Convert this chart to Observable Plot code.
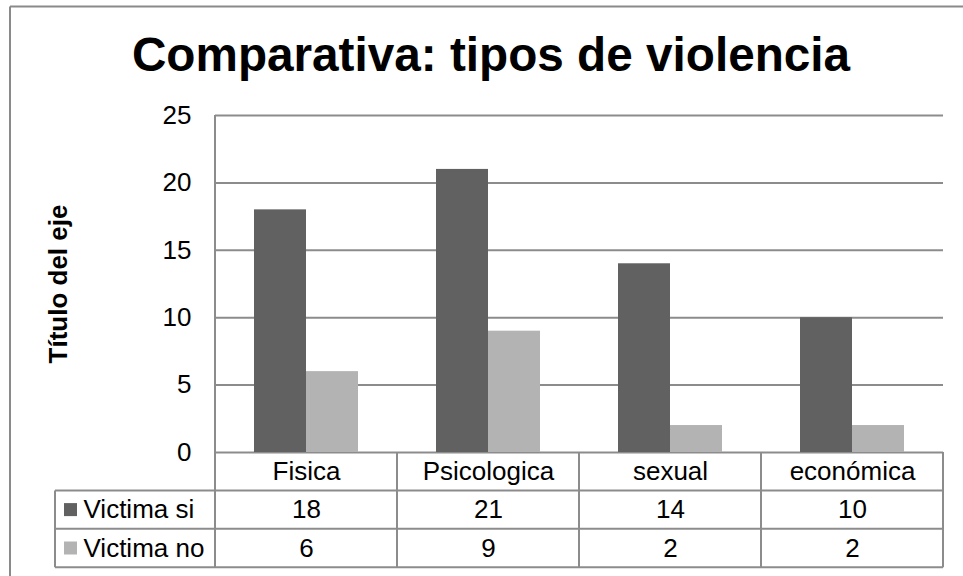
<!DOCTYPE html>
<html>
<head>
<meta charset="utf-8">
<script src="https://cdn.jsdelivr.net/npm/d3@7"></script>
<script src="https://cdn.jsdelivr.net/npm/@observablehq/plot@0.6"></script>
<style>
  html, body { margin: 0; padding: 0; background: white; }
  #chart { width: 963px; height: 576px; overflow: hidden; }
</style>
</head>
<body>
<div id="chart"></div>
<script>
const chartTitle = "Comparativa: tipos de violencia";
const yAxisTitle = "Título del eje";
const categories = ["Fisica", "Psicologica", "sexual", "económica"];
const victimaSi = [18, 21, 14, 10];
const victimaNo = [6, 9, 2, 2];
const seriesNames = ["Victima si", "Victima no"];
const seriesColors = ["#616161", "#b3b3b3"];
const yTicks = [0, 5, 10, 15, 20, 25];

const data = categories.map((c, i) => ({cat: c, si: victimaSi[i], no: victimaNo[i]}));

const W = 963, H = 576;
const mL = 215, mR = 20, mT = 115, mB = 124;
const rowH = 38.4;
const lineColor = "#8c8c8c";
const font = "'Liberation Sans', Arial, sans-serif";
const frameCx = (mL + (W - mR)) / 2;

const plot = Plot.plot({
  width: W, height: H,
  marginLeft: mL, marginRight: mR, marginTop: mT, marginBottom: mB,
  style: {fontFamily: font, fontSize: "26px", color: "#000", background: "white"},
  x: {type: "band", domain: categories, padding: 0, axis: null},
  y: {domain: [0, 25], axis: null},
  marks: [
    Plot.ruleY(yTicks, {stroke: lineColor, strokeWidth: 2}),
    Plot.barY(data, {x: "cat", y: "si", fill: seriesColors[0], insetLeft: 39, insetRight: 91}),
    Plot.barY(data, {x: "cat", y: "no", fill: seriesColors[1], insetLeft: 91, insetRight: 39}),
    Plot.axisY({ticks: yTicks, tickSize: 0, tickPadding: 24, label: null, fontSize: 26, fill: "#000"}),
    // title
    Plot.text([chartTitle], {frameAnchor: "top", dx: 490.5 - frameCx, dy: 37 - mT, textAnchor: "middle",
      lineAnchor: "top", fontSize: 47.7, fontWeight: "bold", fill: "#000"}),
    // y axis title
    Plot.text([yAxisTitle], {frameAnchor: "left", rotate: -90, dx: 58.5 - mL, textAnchor: "middle",
      lineAnchor: "middle", fontSize: 26, fontWeight: "bold", fill: "#000"}),
    // data table: category row
    Plot.text(categories, {x: d => d, frameAnchor: "bottom", dy: rowH * 0.5, lineAnchor: "middle", fontSize: 26, fill: "#000"}),
    // values rows
    Plot.text(data, {x: "cat", text: d => String(d.si), frameAnchor: "bottom", dy: rowH * 1.5, lineAnchor: "middle", fontSize: 26, fill: "#000"}),
    Plot.text(data, {x: "cat", text: d => String(d.no), frameAnchor: "bottom", dy: rowH * 2.5, lineAnchor: "middle", fontSize: 26, fill: "#000"}),
    // row labels
    Plot.text([seriesNames[0]], {frameAnchor: "bottom-left", dx: 83 - mL, dy: rowH * 1.5, textAnchor: "start", lineAnchor: "middle", fontSize: 26, fill: "#000"}),
    Plot.text([seriesNames[1]], {frameAnchor: "bottom-left", dx: 83 - mL, dy: rowH * 2.5, textAnchor: "start", lineAnchor: "middle", fontSize: 26, fill: "#000"})
  ]
});

document.getElementById("chart").appendChild(plot);

// Table grid, legend keys and outer border, placed from Plot's own scales
const xs = plot.scale("x"), ys = plot.scale("y");
const svg = d3.select(plot);
const left = xs.apply(categories[0]);
const right = xs.apply(categories[categories.length - 1]) + xs.bandwidth;
const y0 = ys.apply(0), yTop = ys.apply(25);
const tableLeft = 55;
const g = svg.append("g").attr("stroke", lineColor).attr("stroke-width", 2).attr("fill", "none");
for (let r = 1; r <= 3; r++) {
  g.append("line").attr("x1", tableLeft).attr("x2", right).attr("y1", y0 + r * rowH).attr("y2", y0 + r * rowH);
}
g.append("line").attr("x1", left).attr("x2", left).attr("y1", yTop).attr("y2", y0 + 3 * rowH);
categories.forEach((c, i) => {
  if (i > 0) {
    const xx = xs.apply(c);
    g.append("line").attr("x1", xx).attr("x2", xx).attr("y1", y0).attr("y2", y0 + 3 * rowH);
  }
});
g.append("line").attr("x1", right).attr("x2", right).attr("y1", y0).attr("y2", y0 + 3 * rowH);
g.append("line").attr("x1", tableLeft).attr("x2", tableLeft).attr("y1", y0 + rowH).attr("y2", y0 + 3 * rowH);
seriesColors.forEach((col, i) => {
  svg.append("rect").attr("x", 64).attr("y", y0 + (1.5 + i) * rowH - 6.5)
    .attr("width", 13).attr("height", 13).attr("fill", col);
});
const b = svg.append("g").attr("stroke", "#8a8a8a").attr("stroke-width", 2).attr("fill", "none");
b.append("line").attr("x1", 10).attr("x2", W).attr("y1", 6.5).attr("y2", 6.5);
b.append("line").attr("x1", 10).attr("x2", 10).attr("y1", 6.5).attr("y2", H);
</script>
</body>
</html>
